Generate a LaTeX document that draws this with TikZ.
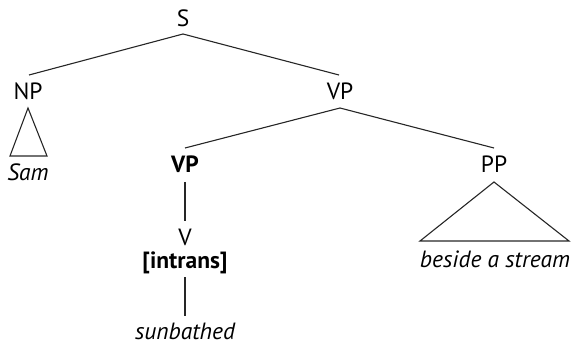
\documentclass[tikz,border=0pt]{standalone}
\usepackage{fontspec}
\setmainfont{PT Sans}
\begin{document}
\begin{tikzpicture}[x=1pt,y=-1pt,
  lbl/.style={anchor=base,inner sep=0pt,font=\fontsize{23.5}{26}\selectfont},
  edge/.style={line width=1.1pt,black!85}]
\useasboundingbox (0,0) rectangle (574,345);
% labels
\node[lbl] (S) at (183,27) {S};
\node[lbl] (NP) at (28,100) {NP};
\node[lbl] (VP1) at (340,100) {VP};
\node[lbl] (Sam) at (28,181) {\itshape Sam};
\node[lbl] (VP2) at (185,173) {\bfseries VP};
\node[lbl] (PP) at (494,173) {PP};
\node[lbl] (V) at (185,245) {V};
\node[lbl] (intr) at (185,268) {\bfseries [intrans]};
\node[lbl] (sun) at (185,339) {\itshape sunbathed};
\node[lbl] (bes) at (495,267) {\itshape beside a stream};
% connector end points
\coordinate (Sb) at (183,34);
\coordinate (NPt) at (29,75);
\coordinate (VP1t) at (339,75);
\coordinate (VP1b) at (340,108);
\coordinate (VP2t) at (185,148);
\coordinate (PPt) at (494,148);
\coordinate (VP2b) at (185,182);
\coordinate (Vt) at (185,221);
\coordinate (intrb) at (185,277);
\coordinate (sunt) at (185,316);
\draw[edge] (NPt) -- (Sb) -- (VP1t);
\draw[edge] (VP2t) -- (VP1b) -- (PPt);
\draw[edge] (VP2b) -- (Vt);
\draw[edge] (intrb) -- (sunt);
% triangles
\coordinate (NPa) at (28,108);
\coordinate (PPa) at (494,182);
\draw[edge,line join=miter] (NPa) -- (10,156) -- (47,156) -- cycle;
\draw[edge,line join=miter] (PPa) -- (420,241) -- (569,241) -- cycle;
\end{tikzpicture}
\end{document}
